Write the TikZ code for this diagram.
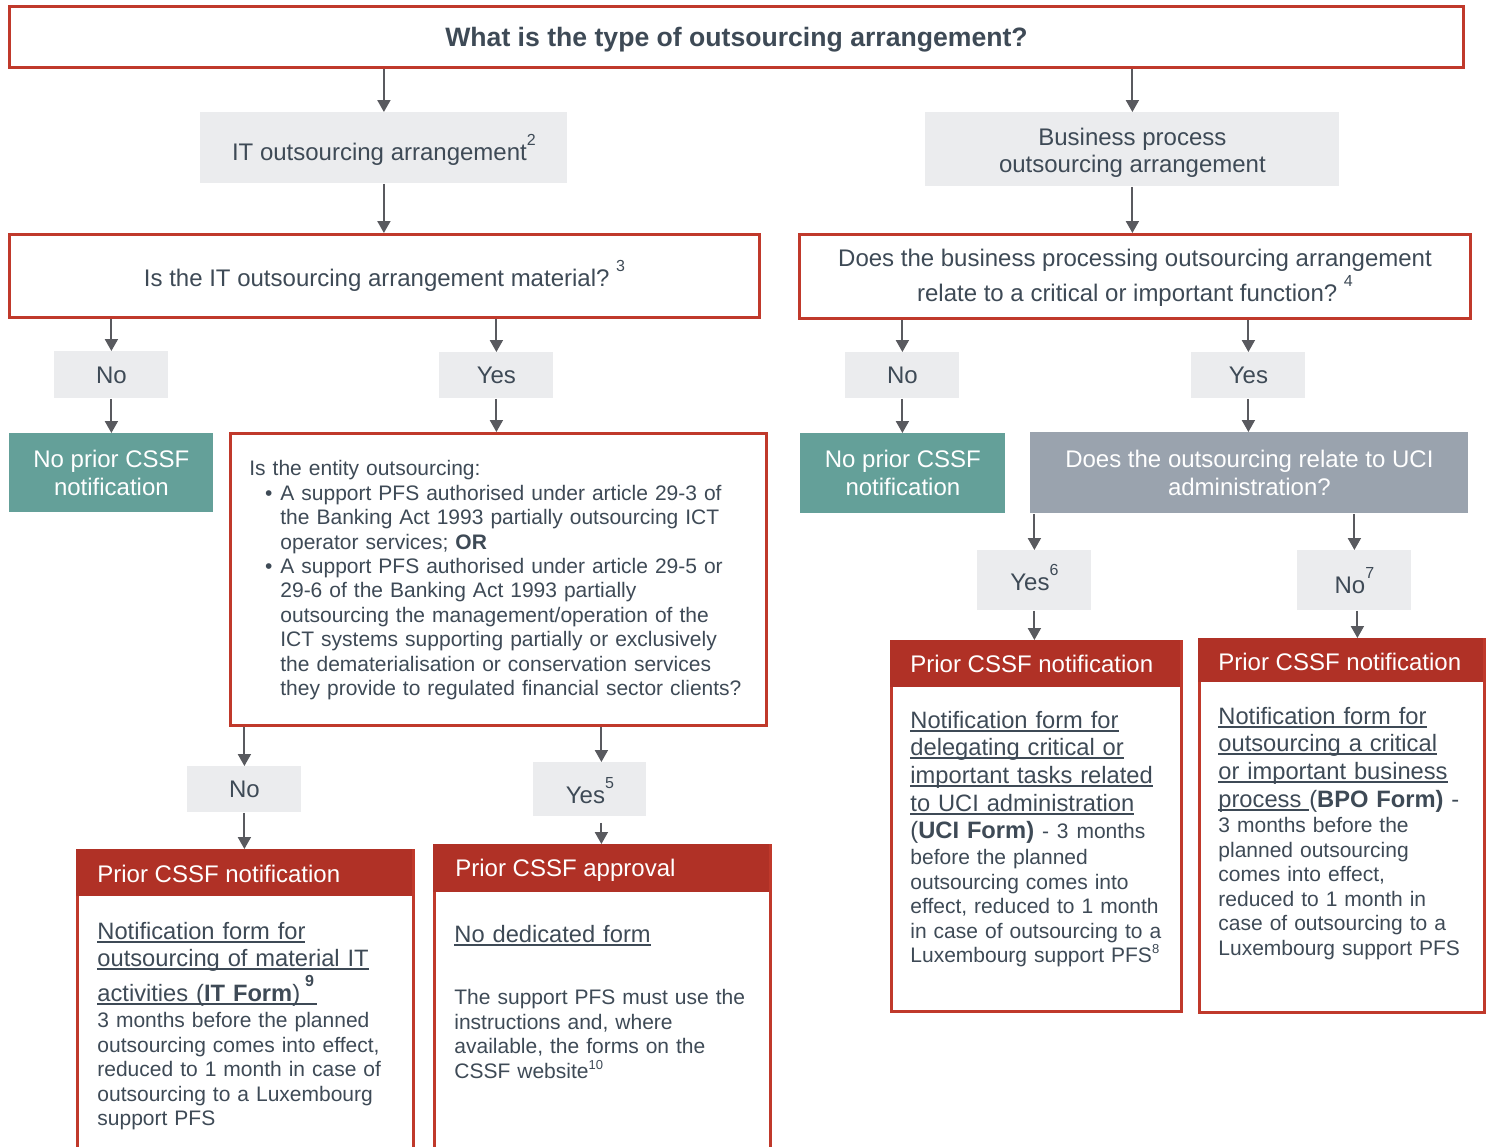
\documentclass[tikz,border=0pt]{standalone}
\usepackage{fontspec}
\setmainfont{Liberation Sans}
\usetikzlibrary{arrows.meta}
\definecolor{txt}{HTML}{3E4A56}
\definecolor{redb}{HTML}{C0392B}
\definecolor{redh}{HTML}{B03126}
\definecolor{tealc}{HTML}{64A099}
\definecolor{labc}{HTML}{EBECEE}
\definecolor{ucig}{HTML}{9AA3AE}
\definecolor{arrc}{HTML}{595A5F}
\newcommand\sups[1]{\smash{\raisebox{0.64em}{\fontsize{8}{8}\selectfont #1}}}
\newcommand\smsup[1]{\smash{\raisebox{0.42em}{\fontsize{6.5}{6.5}\selectfont #1}}}
\newcommand\myul[1]{\setbox0=\hbox{#1}\leavevmode\rlap{\rule[-1.75pt]{\wd0}{0.9pt}}\box0}
\begin{document}
\begin{tikzpicture}[x=0.5pt,y=-0.5pt,
  redq/.style={draw=redb, line width=1.5pt, fill=white, inner sep=0pt, text=txt},
  labbox/.style={fill=labc, inner sep=0pt, text=txt, anchor=north west, font=\fontsize{12}{13.5}\selectfont},
  lab/.style={inner sep=0pt, text=txt, font=\fontsize{12}{13.5}\selectfont},
  tealbox/.style={fill=tealc, text=white, inner sep=0pt, anchor=north west, align=center, font=\fontsize{12}{14}\selectfont},
  arr/.style={draw=arrc, line width=1pt, -{Triangle[width=6.5pt,length=6pt]}},
  resbody/.style={draw=redb, line width=1.5pt, fill=white, inner sep=0pt, anchor=north west},
  hdr/.style={fill=redh, inner sep=0pt, anchor=north west},
  hdrtxt/.style={text=white, font=\fontsize{12}{14}\selectfont, anchor=base west, inner sep=0pt},
  linktxt/.style={text=txt, font=\fontsize{11.85}{13.85}\selectfont, anchor=base west, inner sep=0pt, align=left, text width=200pt},
  bodytxt/.style={text=txt, font=\fontsize{10.5}{12.25}\selectfont, anchor=base west, inner sep=0pt, align=left, text width=200pt}
]
\useasboundingbox (0,0) rectangle (1488,1146);
\clip (0,0) rectangle (1488,1146);

% top
\node[redq, anchor=north west, minimum width=727pt, minimum height=30.5pt] (title) at (8,5) {};
\node[lab, font=\bfseries\fontsize{13.3}{15}\selectfont] (titlet) at ([yshift=-1.5pt]title.center)
  {What is the type of outsourcing arrangement?};

\node[labbox, minimum width=183.5pt, minimum height=35.5pt] (itbox) at (200,112) {};
\node[lab] (itboxt) at ([yshift=-3.25pt]itbox.center) {IT outsourcing arrangement\sups{2}};
\node[labbox, minimum width=207pt, minimum height=37pt] (bpbox) at (925,112) {};
\node[lab, align=center, font=\fontsize{12}{13.4}\selectfont] (bpboxt) at ([yshift=-1.5pt]bpbox.center)
  {Business process\\outsourcing arrangement};

\node[redq, anchor=north west, minimum width=375pt, minimum height=41.5pt] (q1) at (8,233) {};
\node[lab] (q1t) at ([yshift=-2.25pt]q1.center) {Is the IT outsourcing arrangement material?\ \sups{3}};
\node[redq, anchor=north west, minimum width=335.5pt, minimum height=42pt] (q2) at (798,233) {};
\node[lab, align=center, font=\fontsize{12}{17.5}\selectfont] (q2t) at ([yshift=-0.75pt]q2.center)
  {Does the business processing outsourcing arrangement\\relate to a critical or important function?\ \sups{4}};

% left branch
\node[labbox, minimum width=57pt, minimum height=23.5pt] (no1) at (54,351) {No};
\node[labbox, minimum width=57pt, minimum height=23pt] (yes1) at (439,352) {Yes};
\node[tealbox, minimum width=102pt, minimum height=39.5pt] (teal1) at (9,433) {No prior CSSF\\notification};
\node[redq, anchor=north west, minimum width=268pt, minimum height=146pt] (q3) at (229,432) {};
\node[bodytxt, text width=260pt, font=\fontsize{10.5}{12.22}\selectfont] (q3t) at (249,475.7)
  {Is the entity outsourcing:\\
   \hspace*{15.5pt}\llap{\textbullet\hspace{4pt}}A support PFS authorised under article 29-3 of\\
   \hspace*{15.5pt}the Banking Act 1993 partially outsourcing ICT\\
   \hspace*{15.5pt}operator services; \textbf{OR}\\
   \hspace*{15.5pt}\llap{\textbullet\hspace{4pt}}A support PFS authorised under article 29-5 or\\
   \hspace*{15.5pt}29-6 of the Banking Act 1993 partially\\
   \hspace*{15.5pt}outsourcing the management/operation of the\\
   \hspace*{15.5pt}ICT systems supporting partially or exclusively\\
   \hspace*{15.5pt}the dematerialisation or conservation services\\
   \hspace*{15.5pt}they provide to regulated financial sector clients?};

\node[labbox, minimum width=57pt, minimum height=23pt] (no2) at (187,766) {No};
\node[labbox, minimum width=56.5pt, minimum height=27pt] (yes2) at (533,762) {};
\node[lab] (yes2t) at ([yshift=-3pt]yes2.center) {Yes\sups{5}};

\node[resbody, minimum width=168pt, minimum height=160pt] (r1) at (76,849) {};
\node[hdr, minimum width=168pt, minimum height=23.5pt] (r1h) at (76,849) {};
\node[hdrtxt] (r1ht) at (97,882) {Prior CSSF notification};
\node[linktxt] (r1l) at (97,939)
  {\myul{Notification form for}\\
   \myul{outsourcing of material IT}\\[3.65pt]
   \myul{activities (\textbf{IT Form})\hspace{2.5pt}\sups{\textbf{9}}\hspace{1.5pt}}};
\node[bodytxt] (r1b) at (97,1027.5)
  {3 months before the planned\\
   outsourcing comes into effect,\\
   reduced to 1 month in case of\\
   outsourcing to a Luxembourg\\
   support PFS};

\node[resbody, minimum width=168pt, minimum height=163pt] (r2) at (433,844) {};
\node[hdr, minimum width=168pt, minimum height=24pt] (r2h) at (433,844) {};
\node[hdrtxt] (r2ht) at (455,876.5) {Prior CSSF approval};
\node[linktxt] (r2l) at (454,942) {\myul{No dedicated form}};
\node[bodytxt] (r2b) at (454,1004.5)
  {The support PFS must use the\\
   instructions and, where\\
   available, the forms on the\\
   CSSF website\smsup{10}};

% right branch
\node[labbox, minimum width=57pt, minimum height=23pt] (no3) at (845,352) {No};
\node[labbox, minimum width=57pt, minimum height=23pt] (yes3) at (1191,352) {Yes};
\node[tealbox, minimum width=102.5pt, minimum height=40pt] (teal2) at (800,433) {No prior CSSF\\notification};
\node[tealbox, fill=ucig, minimum width=219pt, minimum height=40.5pt,
  font=\fontsize{12}{13.85}\selectfont] (uci) at (1030,432) {Does the outsourcing relate to UCI\\administration?};
\node[labbox, minimum width=57pt, minimum height=30pt] (yes4) at (977,550) {};
\node[lab] (yes4t) at ([yshift=-1pt]yes4.center) {Yes\sups{6}};
\node[labbox, minimum width=57pt, minimum height=30pt] (no4) at (1297,550) {};
\node[lab] (no4t) at ([yshift=-2.5pt]no4.center) {No\sups{7}};

\node[resbody, minimum width=145pt, minimum height=185pt] (r3) at (890,640) {};
\node[hdr, minimum width=145pt, minimum height=23.5pt] (r3h) at (890,640) {};
\node[hdrtxt] (r3ht) at (910,672.5) {Prior CSSF notification};
\node[linktxt] (r3l) at (910,728)
  {\myul{Notification form for}\\
   \myul{delegating critical or}\\
   \myul{important tasks related}\\
   \myul{to UCI administration}\\
   (\textbf{UCI Form)} {\fontsize{10.5}{12}\selectfont - 3 months}};
\node[bodytxt] (r3b) at (910,864.5)
  {before the planned\\
   outsourcing comes into\\
   effect, reduced to 1 month\\
   in case of outsourcing to a\\
   Luxembourg support PFS\smsup{8}};

\node[resbody, minimum width=142.5pt, minimum height=186.5pt] (r4) at (1198,638) {};
\node[hdr, minimum width=142.5pt, minimum height=22pt] (r4h) at (1198,638) {};
\node[hdrtxt] (r4ht) at (1218,670.5) {Prior CSSF notification};
\node[linktxt] (r4l) at (1218,724)
  {\myul{Notification form for}\\
   \myul{outsourcing a critical}\\
   \myul{or important business}\\
   \myul{process }(\textbf{BPO Form)} -};
\node[bodytxt] (r4b) at (1218,832.5)
  {3 months before the\\
   planned outsourcing\\
   comes into effect,\\
   reduced to 1 month in\\
   case of outsourcing to a\\
   Luxembourg support PFS};

% connectors
\draw[arr] (title.south -| itbox.north) -- (itbox.north);
\draw[arr] (title.south -| bpbox.north) -- (bpbox.north);
\draw[arr] (itbox.south) -- (itbox.south |- q1.north);
\draw[arr] (bpbox.south) -- (bpbox.south |- q2.north);
\draw[arr] (q1.south -| no1.north) -- (no1.north);
\draw[arr] (q1.south -| yes1.north) -- (yes1.north);
\draw[arr] (no1.south) -- (no1.south |- teal1.north);
\draw[arr] (yes1.south) -- (yes1.south |- q3.north);
\draw[arr] (q3.south -| no2.north) -- (no2.north);
\coordinate (y2top) at ([xshift=5.75pt]yes2.north);
\draw[arr] (q3.south -| y2top) -- (y2top);
\draw[arr] (no2.south) -- (no2.south |- r1h.north);
\path (yes2.south -| r2h.north) ++(0,6) coordinate (y2bot);
\draw[arr] (y2bot) -- (y2bot |- r2h.north);
\draw[arr] (q2.south -| no3.north) -- (no3.north);
\draw[arr] (q2.south -| yes3.north) -- (yes3.north);
\draw[arr] (no3.south) -- (no3.south |- teal2.north);
\draw[arr] (yes3.south) -- (yes3.south |- uci.north);
\draw[arr] (uci.south -| yes4.north) -- (yes4.north);
\draw[arr] (uci.south -| no4.north) -- (no4.north);
\draw[arr] (yes4.south) -- (yes4.south |- r3h.north);
\coordinate (n4bot) at ([xshift=1.5pt]no4.south);
\draw[arr] (n4bot) -- (n4bot |- r4h.north);
\end{tikzpicture}
\end{document}
